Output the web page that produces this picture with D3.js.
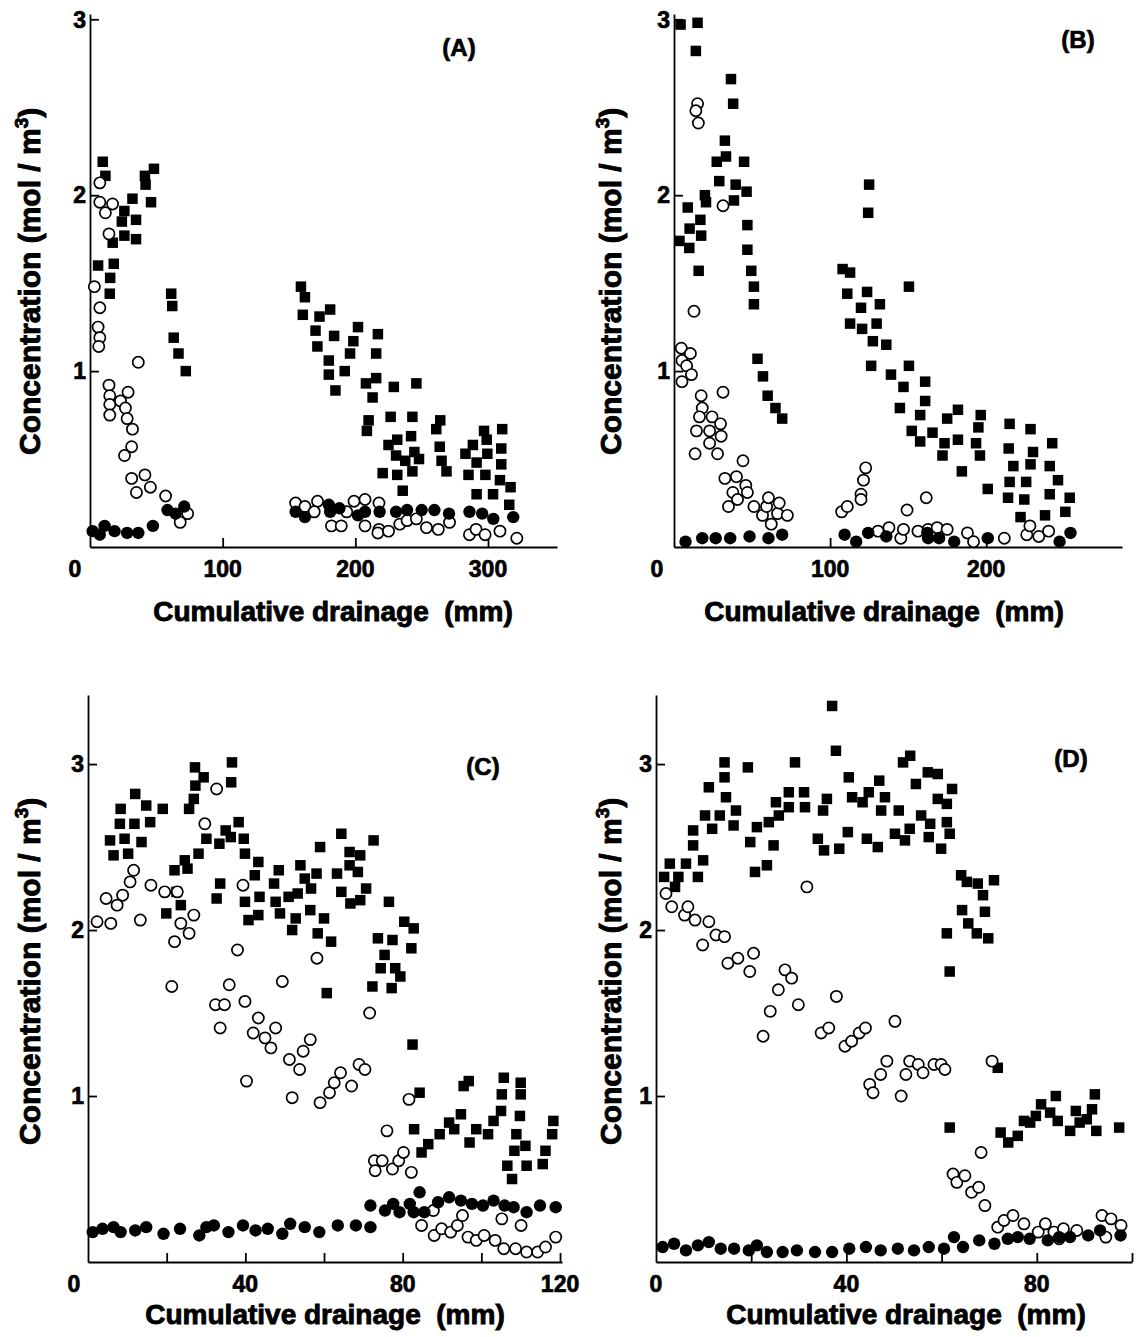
<!DOCTYPE html>
<html>
<head>
<meta charset="utf-8">
<script src="https://cdn.jsdelivr.net/npm/d3@7"></script>
<style>
  body { margin: 0; background: #fff; }
  text { font-family: "Liberation Sans", Arial, sans-serif; font-weight: bold; fill: #000; }
</style>
</head>
<body>
<script>
// ---- data: [cumulative drainage (mm), concentration (mol/m3)] ----
const aSquares = [[9.6,2.19],[11.6,2.11],[6.1,1.60],[15.2,1.53],[14.9,1.44],[17.9,1.61],[17.1,1.73],[24,1.85],[25.9,1.91],[25.9,1.77],[32,1.98],[34.7,1.86],[34.7,1.75],[41.4,2.11],[41.9,2.06],[48.2,2.15],[46,1.96],
  [61.2,1.44],[62,1.37],[63.1,1.19],[66.7,1.10],[72.2,1.00],
  [159,1.48],[162,1.42],[160.4,1.32],[173,1.31],[170,1.23],[171.4,1.14],[181,1.35],[184,1.20],[180,1.06],[180,0.98],[185,0.89],[192,1.00],[196,1.10],[198.5,1.17],[202,1.25],
  [217,1.21],[215.7,1.10],[215.7,0.96],[208,0.93],[213,0.85],[210,0.72],[208.7,0.66],[229,0.91],[226.6,0.74],[225,0.58],[220.6,0.42],[231.6,0.61],[230.7,0.52],[231.6,0.41],[235.7,0.32],[237.6,0.49],
  [246,0.93],[243,0.74],[242,0.63],[244.5,0.54],[243,0.43],[248,0.50],[264,0.72],[261,0.67],[263.6,0.57],[265,0.49],[268.7,0.43],
  [283,0.53],[285.3,0.41],[288.6,0.58],[291.4,0.48],[291.4,0.30],[297,0.66],[299,0.61],[299.5,0.53],[298,0.41],[303.8,0.30],[310.7,0.67],[310,0.56],[310,0.47],[309,0.38],[317,0.34],[316,0.24]];
const aOpen = [[7.4,2.07],[7.4,1.96],[11.6,1.90],[17,1.95],[14.3,1.78],[3.3,1.48],[7.4,1.36],[6.1,1.25],[7.4,1.19],[6.6,1.14],[36.4,1.05],[14.3,0.92],[14.9,0.86],[14.9,0.81],[14.9,0.75],
  [23,0.83],[28.7,0.88],[26.7,0.79],[28,0.73],[32,0.67],[31.4,0.57],[26,0.52],[31.4,0.39],[41.4,0.41],[35,0.31],[45.5,0.34],[57,0.29],[68,0.14],[73.6,0.19],
  [155,0.25],[162,0.23],[171.5,0.26],[169,0.20],[182,0.12],[189.4,0.12],[193.5,0.20],[199,0.26],[207.3,0.27],[207.3,0.12],[217.8,0.25],[217.8,0.10],[217,0.08],[225,0.09],
  [233.5,0.13],[239,0.15],[246,0.16],[253.6,0.11],[262.5,0.10],[271,0.14],[286,0.07],[291,0.10],[297.8,0.07],[309,0.09],[321.7,0.05]];
const aFilled = [[2,0.09],[7.4,0.07],[11,0.12],[18.5,0.09],[28,0.08],[36.4,0.08],[47.4,0.12],[58.4,0.21],[64.5,0.19],[71,0.23],
  [155,0.20],[162,0.17],[180,0.24],[181,0.20],[188,0.22],[202,0.18],[207.3,0.20],[218.3,0.20],[230.7,0.20],[239,0.21],[250,0.21],[259.6,0.21],[270.6,0.19],[286,0.20],[295.6,0.19],[304,0.16],[319,0.17]];

const bSquares = [[4.2,2.97],[15.1,2.98],[14,2.82],[3.5,1.74],[8.8,1.93],[9.8,1.70],[10,1.81],[16.9,1.86],[17.4,1.77],[15.8,1.57],[19.8,2.00],[20.5,1.96],[27.4,2.19],[29,2.08],[32.6,2.31],[33.3,2.22],
  [36.5,2.66],[37.9,2.52],[38.4,1.97],[39.5,2.06],[44.9,2.19],[46.5,2.02],[47,1.83],[47,1.69],[49.5,1.57],[51.2,1.48],[51.2,1.38],[53.5,1.07],[57,0.97],[60,0.86],[65,0.79],[69.3,0.73],
  [108,1.58],[112.8,1.56],[111,1.44],[112.8,1.27],[119.8,1.36],[120.5,1.24],[123.7,1.45],[125,2.06],[124.4,1.90],[127.4,1.17],[126.3,1.03],[129.8,1.27],[131.9,1.38],[136,1.15],[139,0.98],
  [147,0.91],[144.7,0.79],[150.5,1.48],[150.5,1.03],[152.3,0.66],[157.7,0.75],[157.7,0.60],[160.9,0.94],[160.9,0.83],[165.6,0.65],[172,0.52],[175,0.73],[173.3,0.59],[181.9,0.78],[181.9,0.61],
  [184.4,0.43],[193.5,0.59],[195,0.68],[196.5,0.75],[196,0.52],[201,0.33],[215,0.70],[214.4,0.56],[217.4,0.46],[215,0.37],[214,0.28],[222,0.17],[225.6,0.37],[224.4,0.27],[228.4,0.67],[228.4,0.47],
  [230,0.54],[237.7,0.18],[240.7,0.30],[242.3,0.59],[240.7,0.46],[246,0.38],[250.7,0.20],[253.5,0.28]];
const bOpen = [[15.1,2.52],[14,2.48],[15.6,2.41],[31.4,1.94],[12.8,1.34],[4.7,1.13],[5.1,1.06],[10.5,1.10],[8.1,1.03],[5.1,0.94],[11.2,0.98],[17.4,0.86],[31.4,0.88],[18.1,0.79],[16.3,0.74],
  [14.4,0.66],[13.5,0.53],[24.4,0.74],[22.8,0.66],[29.8,0.70],[30.2,0.63],[22.8,0.59],[27.9,0.53],[44.2,0.49],[32.6,0.39],[40,0.40],[37.7,0.31],[46,0.35],[47,0.31],[34.9,0.23],[40.7,0.27],
  [51.2,0.23],[56.7,0.18],[59.3,0.23],[60.5,0.28],[62.3,0.13],[66.3,0.19],[67.4,0.25],[72.6,0.18],
  [107.4,0.20],[111,0.23],[119.8,0.30],[119.8,0.27],[121.4,0.38],[122.8,0.45],[130.7,0.09],[137.7,0.11],[145.3,0.05],[147,0.10],[149.3,0.21],[156.3,0.09],[161.6,0.28],[162.8,0.10],
  [168.6,0.11],[175,0.10],[188,0.08],[191.9,0.03],[211.6,0.05],[226,0.07],[228,0.12],[233.7,0.06],[240,0.09]];
const bFilled = [[7.4,0.03],[18.1,0.05],[26.7,0.05],[36,0.05],[48.4,0.06],[60.5,0.05],[69.3,0.07],[109.3,0.07],[116.7,0.03],[124.4,0.08],[136,0.06],[162.3,0.08],[162.8,0.05],[169.8,0.05],
  [179.5,0.03],[201,0.05],[247,0.03],[254,0.08]];

const cSquares = [[5.6,2.54],[6.5,2.45],[8.3,2.73],[8.1,2.64],[9.3,2.55],[10.2,2.46],[12,2.82],[11.8,2.64],[13.6,2.53],[14.8,2.75],[15.8,2.65],[19,2.73],[19.9,2.10],[22,2.36],[22.5,2.23],[23.6,2.15],
  [24.6,2.42],[25.3,2.37],[25.7,2.73],[26.9,2.79],[27.2,2.98],[27.3,2.87],[29.4,2.92],[28.1,2.46],[30.1,2.55],[33.4,2.52],[32.7,2.19],[33.6,2.28],[35,2.60],[36.6,3.01],[36.4,2.89],[36.3,2.56],
  [38.3,2.65],[39.6,2.55],[39.9,2.46],[39.9,2.17],[40.8,2.06],[43.3,2.41],[42.4,2.33],[43.6,2.20],[43.3,2.09],[47.3,2.28],[47.7,2.17],[48.8,2.10],[48.5,2.36],[51,2.20],[51.9,2.00],[52.8,2.07],
  [53.3,2.22],[54,2.39],[55.1,2.31],[56.7,2.25],[56.5,2.12],[58.1,2.34],[58.4,1.98],[59,2.50],[60,2.07],[60.7,1.62],[61.8,1.93],[63.3,2.34],[64.4,2.58],[64.4,2.23],[66.5,2.47],[66.5,2.39],
  [66.7,2.16],[68.6,2.35],[69.2,2.45],[69.2,2.18],[70.7,2.25],[72.6,2.54],[72.3,1.66],[73.7,1.95],[74.4,1.77],[75.4,1.85],[76.5,2.17],[77.4,1.94],[77.2,1.65],[78.1,1.77],[79.4,1.72],[80.4,2.05],
  [82.2,1.89],[82.8,2.01],[82.5,1.31],[82.9,0.80],[84.3,1.02],[84.8,0.66],[86.5,0.71],[89.4,0.77],[91.8,0.84],[93.1,0.80],[94.8,0.89],[95.5,1.06],[96.8,1.09],[97,0.72],[98.7,0.80],[101.7,0.77],
  [103.1,0.85],[105,0.91],[105.2,1.01],[105.7,1.11],[106.6,0.58],[107.8,0.50],[108.4,0.67],[108.9,0.77],[110,1.08],[110,1.01],[109.8,0.88],[111.2,0.70],[111.5,0.58],[115.6,0.59],[116.3,0.67],
  [118,0.77],[118.3,0.85]];
const cOpen = [[2.3,2.05],[4.6,2.19],[5.8,2.04],[7.4,2.15],[8.8,2.21],[10.7,2.29],[11.6,2.36],[13.3,2.06],[16,2.27],[19.5,2.23],[21.3,1.66],[22,1.93],[22.7,2.23],[23.6,2.04],[25.7,1.98],[26.9,2.09],
  [29.7,2.64],[32.7,2.85],[32.4,1.55],[33.6,1.41],[34.7,1.55],[35.9,1.67],[38,1.88],[39.4,2.27],[39.9,1.57],[40.3,1.09],[42,1.38],[43.3,1.47],[45,1.35],[46.5,1.29],[47.7,1.41],[49.4,1.69],
  [51.2,1.22],[51.9,0.99],[53.8,1.16],[54.7,1.27],[56.5,1.34],[58.2,1.83],[59,0.96],[61.4,1.02],[62.6,1.08],[64.2,1.14],[67,1.06],[68.9,1.19],[70.4,1.16],[71.6,1.50],[72.8,0.61],[73,0.55],
  [74.8,0.61],[76,0.79],[77.4,0.56],[79,0.61],[80.2,0.66],[81.6,0.98],[82.2,0.54],[84.8,0.22],[87.8,0.31],[88,0.16],[89.9,0.20],[92.2,0.18],[93.9,0.22],[95.2,0.28],[96.6,0.15],[98.7,0.13],
  [100.7,0.16],[103.5,0.13],[105.2,0.26],[105.7,0.08],[108.7,0.08],[110.1,0.22],[111.5,0.06],[114.3,0.06],[116.3,0.09],[118.9,0.15]];
const cFilled = [[1.2,0.18],[3.7,0.20],[6.5,0.21],[8.3,0.18],[12,0.19],[14.8,0.21],[19.2,0.17],[23.4,0.20],[28.3,0.16],[30.1,0.21],[32,0.22],[35.7,0.18],[39.4,0.22],[42.6,0.19],[45.7,0.20],
  [49.4,0.17],[51.4,0.23],[55.1,0.21],[58.8,0.18],[63.5,0.22],[68.1,0.22],[71.8,0.21],[71.8,0.34],[75.5,0.31],[77.6,0.35],[79.2,0.30],[81.8,0.35],[82.8,0.30],[84.3,0.42],[85.5,0.30],[89,0.36],
  [91.8,0.39],[94.8,0.37],[97.6,0.35],[100.4,0.34],[103.1,0.37],[105.9,0.34],[108.2,0.33],[111.5,0.30],[114.9,0.34],[118.9,0.33]];

const dSquares = [[1.7,2.32],[2.9,2.40],[4,2.26],[4.7,2.32],[6.3,2.40],[7.8,2.51],[7.8,2.60],[8.8,2.32],[9.9,2.42],[10.3,2.69],[11.1,2.86],[11.8,2.61],[13.4,2.69],[14.4,3.01],[14.4,2.92],
  [14.7,2.80],[16.3,2.63],[16.8,2.72],[19.3,2.98],[19.8,2.53],[20.8,2.35],[21.2,2.62],[23.3,2.39],[23.7,2.65],[24.7,2.51],[25.2,2.77],[25.8,2.69],[27.9,2.74],[27.9,2.83],[29.2,3.01],[31.1,2.83],
  [31.3,2.74],[34,2.55],[35.1,2.72],[35.3,2.48],[35.9,2.79],[37,3.35],[37.8,3.08],[38.5,2.49],[40.3,2.59],[40.5,2.92],[41.2,2.80],[43.4,2.77],[44.3,2.55],[44.7,2.83],[46.6,2.50],[46.9,2.90],
  [47.3,2.72],[48.1,2.80],[50.2,2.58],[51,2.72],[51.9,3.01],[52.3,2.54],[53.3,2.61],[53.4,3.05],[54.6,2.88],[55.7,2.69],[57.3,2.56],[57.1,2.95],[57.6,2.64],[59.2,2.94],[59.2,2.79],[59.9,2.49],
  [61.1,2.76],[61.1,2.65],[62.2,2.85],[61.7,2.58],[61.7,1.75],[61.1,1.98],[61.7,0.81],[64.1,2.33],[64.3,2.12],[65.3,2.29],[65.6,2.04],[67.6,2.28],[67.4,1.98],[68.7,2.21],[69.1,2.11],[69.8,1.95],
  [71,2.30],[71.8,1.17],[72.4,0.78],[74,0.72],[76,0.76],[77.3,0.85],[78.6,0.84],[79.8,0.88],[80.9,0.95],[82.8,0.90],[84,1.00],[84.4,0.85],[87,0.79],[88.2,0.91],[89,0.84],[90.5,0.86],[91.6,0.92],
  [92.2,1.01],[92.5,0.79],[97.3,0.81]];
const dOpen = [[2.1,2.22],[3.3,2.14],[6,2.09],[6.7,2.14],[8.2,2.06],[9.8,1.91],[11.1,2.05],[12.6,1.97],[14.4,1.96],[15.1,1.80],[17.2,1.83],[19.7,1.75],[20.5,1.86],[22.5,1.36],[24,1.51],[25.7,1.64],
  [27.1,1.76],[28.5,1.71],[29.9,1.55],[31.7,2.26],[34.7,1.38],[36.3,1.41],[37.9,1.60],[39.7,1.30],[41.1,1.33],[42.7,1.38],[44,1.41],[44.9,1.07],[45.6,1.02],[47.2,1.13],[48.5,1.21],[50.2,1.45],
  [51.5,1.00],[52.5,1.13],[53.3,1.21],[55.1,1.19],[56.1,1.14],[58.4,1.19],[59.9,1.19],[60.7,1.16],[62.4,0.53],[63.2,0.48],[64.9,0.52],[66.3,0.42],[67.8,0.45],[68.3,0.66],[69.1,0.34],[70.6,1.21],
  [71.8,0.21],[73.1,0.25],[75,0.28],[77.3,0.23],[80.3,0.18],[81.8,0.23],[83.6,0.18],[84.7,0.14],[85.6,0.20],[88.4,0.19],[93.7,0.28],[94.5,0.15],[95.6,0.26],[97.7,0.22]];
const dFilled = [[1.4,0.09],[3.8,0.11],[6.3,0.07],[8.8,0.10],[11.1,0.12],[13.6,0.08],[16.4,0.08],[19.5,0.07],[21.2,0.10],[23.3,0.06],[26.6,0.06],[29.6,0.07],[33.4,0.06],[37,0.06],[40.6,0.08],
  [44.1,0.09],[47.2,0.07],[50.8,0.08],[54.2,0.07],[57.3,0.09],[60.5,0.08],[62.6,0.15],[64.5,0.09],[67.9,0.13],[71.1,0.11],[73.9,0.14],[76,0.15],[78.5,0.14],[82.3,0.13],[84.7,0.15],[87,0.15],
  [90.8,0.16],[93.3,0.19],[97.6,0.16]];

// tick values and labels
const yTickValues = [1, 2, 3];
const aXTicks = [100, 200, 300], aXLabels = [0, 100, 200, 300];
const bXTicks = [100, 200], bXLabels = [0, 100, 200];
const cXTicks = [20, 40, 60, 80, 100, 120], cXLabels = [0, 40, 80, 120];
const dXTicks = [20, 40, 60, 80, 100], dXLabels = [0, 40, 80];
const panelNames = ["(A)", "(B)", "(C)", "(D)"];
const xTitle = "Cumulative drainage  (mm)";

const width = 1136, height = 1337;
const svg = d3.select("body").append("svg")
    .attr("width", width)
    .attr("height", height);

const panels = [
  {name: panelNames[0], sq: aSquares, open: aOpen, dot: aFilled, xDom: [0, 352], xPx: [90, 557], yDom: [0, 3.03], yPx: [547, 14],
   xTicks: aXTicks, xLabels: aXLabels, zeroShift: -15, nameAt: [459, 56], yTitleX: 30, yTitleY: 455, xTitleX: 333, xTitleY: 621},
  {name: panelNames[1], sq: bSquares, open: bOpen, dot: bFilled, xDom: [0, 287], xPx: [674, 1122], yDom: [0, 3.03], yPx: [547, 14],
   xTicks: bXTicks, xLabels: bXLabels, zeroShift: -17, nameAt: [1078, 48], yTitleX: 611, yTitleY: 455, xTitleX: 884, xTitleY: 621},
  {name: panelNames[2], sq: cSquares, open: cOpen, dot: cFilled, xDom: [0, 120.5], xPx: [88, 562], yDom: [0, 3.416], yPx: [1262, 695],
   xTicks: cXTicks, xLabels: cXLabels, zeroShift: -14, nameAt: [483, 775], yTitleX: 30, yTitleY: 1145, xTitleX: 325, xTitleY: 1324},
  {name: panelNames[3], sq: dSquares, open: dOpen, dot: dFilled, xDom: [0, 100], xPx: [656, 1132], yDom: [0, 3.416], yPx: [1262, 695],
   xTicks: dXTicks, xLabels: dXLabels, zeroShift: 0, nameAt: [1071, 767], yTitleX: 611, yTitleY: 1145, xTitleX: 906, xTitleY: 1324}
];

function drawPanel(p) {
  const g = svg.append("g");
  const x = d3.scaleLinear().domain(p.xDom).range(p.xPx);
  const y = d3.scaleLinear().domain(p.yDom).range(p.yPx);
  const x0 = x(0), y0 = y(0);

  // axes: ticks point inward, no library labels
  const xAxis = g.append("g")
      .attr("transform", `translate(0,${y0})`)
      .call(d3.axisBottom(x).tickValues(p.xTicks).tickSize(-9).tickSizeOuter(0).tickFormat(""));
  const yAxis = g.append("g")
      .attr("transform", `translate(${x0},0)`)
      .call(d3.axisLeft(y).tickValues(yTickValues).tickSize(-9).tickSizeOuter(0).tickFormat(""));
  [xAxis, yAxis].forEach(a => {
    a.selectAll("path, line").attr("stroke", "#000").attr("stroke-width", 1.8);
  });

  // tick labels
  g.selectAll(".xl").data(p.xLabels).join("text")
      .attr("class", "xl")
      .attr("x", d => x(d) + (d === 0 ? p.zeroShift : 0))
      .attr("y", y0 + 30)
      .attr("text-anchor", "middle")
      .style("font-size", "23px")
      .attr("stroke", "#000").attr("stroke-width", 0.7)
      .text(d => d);
  g.selectAll(".yl").data(yTickValues).join("text")
      .attr("class", "yl")
      .attr("x", x0 - 4)
      .attr("y", d => y(d))
      .attr("dy", "0.36em")
      .attr("text-anchor", "end")
      .style("font-size", "23px")
      .attr("stroke", "#000").attr("stroke-width", 0.7)
      .text(d => d);

  // markers
  const sz = 10.5;
  g.append("g").selectAll("rect").data(p.sq).join("rect")
      .attr("x", d => x(d[0]) - sz / 2)
      .attr("y", d => y(d[1]) - sz / 2)
      .attr("width", sz).attr("height", sz)
      .attr("fill", "#000");
  g.append("g").selectAll("circle").data(p.open).join("circle")
      .attr("cx", d => x(d[0]))
      .attr("cy", d => y(d[1]))
      .attr("r", 5.6)
      .attr("fill", "#fff")
      .attr("stroke", "#000")
      .attr("stroke-width", 1.7);
  g.append("g").selectAll("circle").data(p.dot).join("circle")
      .attr("cx", d => x(d[0]))
      .attr("cy", d => y(d[1]))
      .attr("r", 6.2)
      .attr("fill", "#000");

  // panel letter
  g.append("text")
      .attr("x", p.nameAt[0]).attr("y", p.nameAt[1])
      .attr("text-anchor", "middle")
      .style("font-size", "24px")
      .attr("stroke", "#000").attr("stroke-width", 0.7)
      .text(p.name);

  // axis titles
  g.append("text")
      .attr("x", p.xTitleX).attr("y", p.xTitleY)
      .attr("text-anchor", "middle")
      .style("font-size", "28px")
      .style("white-space", "pre")
      .attr("stroke", "#000").attr("stroke-width", 0.9)
      .text(xTitle);

  const yt = g.append("text")
      .attr("transform", `translate(${p.yTitleX + 10},${p.yTitleY}) rotate(-90)`)
      .attr("text-anchor", "start")
      .style("font-size", "30px")
      .attr("stroke", "#000").attr("stroke-width", 0.9);
  yt.append("tspan").text("Concentration (mol / m");
  yt.append("tspan").attr("dy", -12).style("font-size", "19px").text("3");
  yt.append("tspan").attr("dy", 12).text(")");
}

panels.forEach(drawPanel);
</script>
</body>
</html>
